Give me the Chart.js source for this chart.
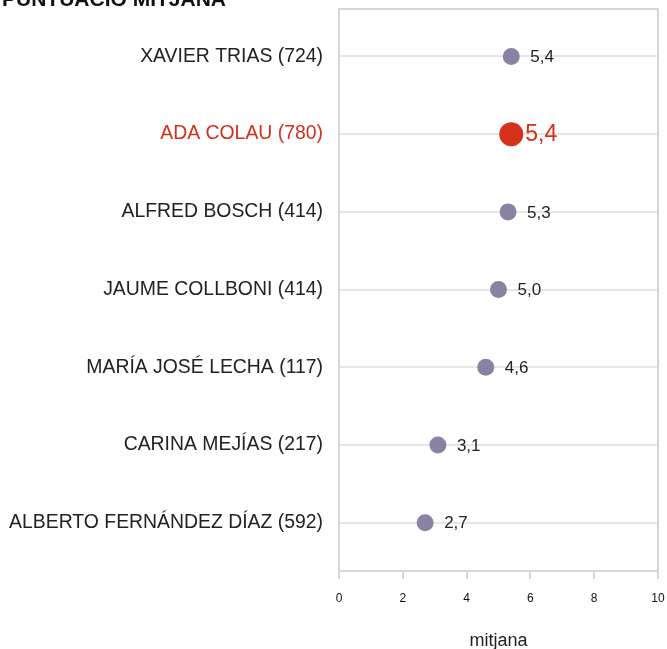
<!DOCTYPE html>
<html>
<head>
<meta charset="utf-8">
<script src="https://cdn.jsdelivr.net/npm/chart.js@4"></script>
<style>
  html, body { margin: 0; background: #fff; overflow: hidden; }
  #wrap { width: 667px; height: 649px; position: relative; }
  canvas { display: block; }
</style>
</head>
<body>
<div id="wrap"><canvas id="punts"></canvas></div>
<script>
// valoracio dels candidats - puntuacio mitjana (0-10)
const candidats = ['XAVIER TRIAS', 'ADA COLAU', 'ALFRED BOSCH', 'JAUME COLLBONI',
  'MARÍA JOSÉ LECHA', 'CARINA MEJÍAS', 'ALBERTO FERNÁNDEZ DÍAZ'];
const respostes = [724, 780, 414, 414, 117, 217, 592];
const mitjana = [5.4, 5.4, 5.3, 5.0, 4.6, 3.1, 2.7];
const destacat = 'ADA COLAU';
const xTicks = [0, 2, 4, 6, 8, 10];

const LILA = '#8b82a3';
const VERMELL = '#d4301a';
const GRIS = '#d6d6d6';
const FONT = '"Liberation Sans", Arial, sans-serif';

const etiquetes = candidats.map((c, i) => c + ' (' + respostes[i] + ')');
const esDestacat = i => candidats[i] === destacat;
const fmt = v => v.toFixed(1).replace('.', ',');

// caixa al voltant de l'area i etiquetes de valor
const extres = {
  id: 'extres',
  beforeDatasetsDraw(chart) {
    const a = chart.chartArea, c = chart.ctx;
    c.save();
    c.strokeStyle = GRIS;
    c.lineWidth = 2;
    c.strokeRect(a.left, a.top, a.right - a.left, a.bottom - a.top);
    c.restore();
  },
  afterDatasetsDraw(chart) {
    const c = chart.ctx;
    const meta = chart.getDatasetMeta(0);
    c.save();
    c.textBaseline = 'middle';
    c.textAlign = 'left';
    meta.data.forEach((pt, i) => {
      if (esDestacat(i)) {
        c.fillStyle = VERMELL;
        c.font = '23px ' + FONT;
        c.fillText(fmt(mitjana[i]), pt.x + 14, pt.y + 1);
      } else {
        c.fillStyle = '#222';
        c.font = '17px ' + FONT;
        c.fillText(fmt(mitjana[i]), pt.x + 19, pt.y + 1);
      }
    });
    // titol (tallat a dalt com a l'original)
    c.fillStyle = '#111';
    c.font = 'bold 21px ' + FONT;
    c.textBaseline = 'alphabetic';
    c.fillText('PUNTUACIÓ MITJANA', 2, 6);
    c.restore();
  }
};

new Chart(document.getElementById('punts'), {
  type: 'scatter',
  data: {
    datasets: [{
      data: mitjana.map((v, i) => ({ x: v, y: i })),
      pointRadius: ctx => esDestacat(ctx.dataIndex) ? 12 : 8.5,
      pointHoverRadius: ctx => esDestacat(ctx.dataIndex) ? 12 : 8.5,
      pointBackgroundColor: ctx => esDestacat(ctx.dataIndex) ? VERMELL : LILA,
      pointBorderWidth: 0
    }]
  },
  options: {
    responsive: true,
    maintainAspectRatio: false,
    animation: false,
    layout: { autoPadding: false, padding: { top: 9, right: 9, left: 0, bottom: 0 } },
    plugins: { legend: { display: false }, tooltip: { enabled: false } },
    scales: {
      x: {
        type: 'linear',
        min: 0, max: 10,
        afterBuildTicks: s => { s.ticks = xTicks.map(v => ({ value: v })); },
        afterFit: s => { s.height = 78; s.paddingLeft = 0; s.paddingRight = 0; },
        ticks: {
          color: '#111',
          padding: 12,
          font: { size: 12, family: FONT }
        },
        grid: { drawOnChartArea: false, drawTicks: true, tickLength: 8, color: GRIS, lineWidth: 2 },
        border: { color: GRIS, width: 2 },
        title: {
          display: true,
          text: 'mitjana',
          color: '#222',
          padding: { top: 15, bottom: -3 },
          font: { size: 18, family: FONT }
        }
      },
      y: {
        type: 'linear',
        reverse: true,
        min: -0.61, max: 6.62,
        afterBuildTicks: s => { s.ticks = candidats.map((c, i) => ({ value: i })); },
        afterFit: s => { s.width = 339; s.paddingTop = 0; s.paddingBottom = 0; },
        ticks: {
          callback: v => etiquetes[v],
          color: ctx => esDestacat(ctx.tick.value) ? VERMELL : '#222',
          padding: 16,
          font: { size: 19.4, family: FONT }
        },
        grid: { color: '#e6e6e6', lineWidth: 2, drawTicks: false },
        border: { color: GRIS, width: 2 }
      }
    }
  },
  plugins: [extres]
});
</script>
</body>
</html>
